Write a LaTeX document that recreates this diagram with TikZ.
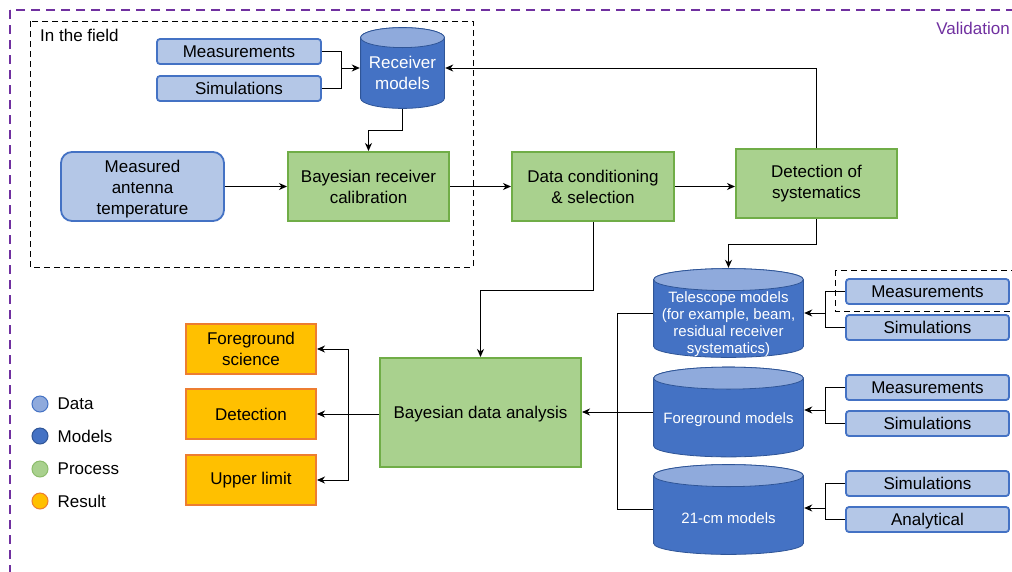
\documentclass[tikz,border=0pt]{standalone}
\usepackage{fontspec}
\setmainfont{Liberation Sans}
\usetikzlibrary{arrows.meta,positioning,calc}
\usepackage{xcolor}

\definecolor{datafill}{HTML}{B4C7E7}
\definecolor{dataline}{HTML}{4472C4}
\definecolor{modelfill}{HTML}{4472C4}
\definecolor{modeltop}{HTML}{8FAADC}
\definecolor{modelline}{HTML}{2F5597}
\definecolor{procfill}{HTML}{A9D18E}
\definecolor{procline}{HTML}{70AD47}
\definecolor{resfill}{HTML}{FFC000}
\definecolor{resline}{HTML}{ED7D31}
\definecolor{validcol}{HTML}{7030A0}

\newcommand{\biglbl}{\fontsize{17}{21}\selectfont}
\newcommand{\smalllbl}{\fontsize{15}{17}\selectfont}

% cylinder body drawn inside the node (argument = half height of the end ellipse)
\newcommand{\cylpic}[1]{%
  \draw[modelline, line width=0.8pt, fill=modelfill]
    let \p1=(path picture bounding box.south west),
        \p2=(path picture bounding box.north east),
        \n1={(\x2-\x1)/2-0.6pt} in
    (\x1+0.6pt,\y2-#1-0.6pt) -- (\x1+0.6pt,\y1+#1+0.6pt)
    arc[start angle=180,end angle=360,x radius=\n1,y radius=#1]
    -- (\x2-0.6pt,\y2-#1-0.6pt)
    arc[start angle=0,end angle=180,x radius=\n1,y radius=#1] -- cycle;
  \draw[modelline, line width=0.8pt, fill=modeltop]
    let \p1=(path picture bounding box.south west),
        \p2=(path picture bounding box.north east),
        \n1={(\x2-\x1)/2-0.6pt} in
    ({(\x1+\x2)/2},\y2-#1-0.6pt) ellipse[x radius=\n1,y radius=#1];
}
% lowered multi-line text
\newcommand{\lowtext}[2]{\raisebox{#1}[\height][\depth]{\begin{tabular}{@{}c@{}}#2\end{tabular}}}

\tikzset{
  databox/.style={draw=dataline, fill=datafill, line width=1.8pt, rounded corners=3pt,
    minimum width=164pt, minimum height=25pt, inner sep=0pt, font=\biglbl,
    text height=12.5pt, text depth=0pt},
  procbox/.style={draw=procline, fill=procfill, line width=2pt, minimum width=161pt,
    minimum height=69pt, align=center, font=\biglbl},
  resbox/.style={draw=resline, fill=resfill, line width=2pt, minimum width=130pt,
    minimum height=50pt, align=center, font=\biglbl},
  modelcyl/.style={minimum width=151pt, minimum height=91pt, inner sep=0pt,
    text=white, font=\smalllbl, path picture={\cylpic{#1}}},
  legdot/.style={circle, minimum size=16pt, inner sep=0pt, line width=1pt},
  leglbl/.style={right=9pt of #1, font=\biglbl, inner sep=0pt},
  wire/.style={line width=1pt},
  arrowline/.style={wire, -{Stealth[length=8pt,width=7pt,inset=2.5pt]}}
}

\begin{document}
\begin{tikzpicture}[x=1pt,y=-1pt]

  \useasboundingbox (0,0) rectangle (1012,571);

  % frames
  \draw[validcol, line width=1.6pt, dash pattern=on 9pt off 6pt] (10,10) rectangle (1040,600);
  \node[anchor=east, text=validcol, font=\biglbl, inner sep=0pt] (validlbl) at (1010,28) {Validation};
  \draw[line width=0.8pt, dash pattern=on 6pt off 4pt] (30,21) rectangle (473,267);
  \node[anchor=north west, font=\biglbl, inner sep=0pt] (fieldlbl) at (40,29) {In the field};
  \draw[line width=0.8pt, dash pattern=on 6pt off 4pt] (835,270) rectangle (1030,311);

  % in the field
  \node[databox] (meas1) at (239,51.5) {Measurements};
  \node[databox] (sim1) at (239,88.5) {Simulations};
  \node[modelcyl=10pt, minimum width=85pt, minimum height=82pt, font=\biglbl] (recv) at (402.5,68)
    {\lowtext{-7pt}{Receiver\\models}};
  \node[draw=dataline, fill=datafill, line width=1.8pt, rounded corners=11pt, font=\biglbl,
    minimum width=163pt, minimum height=69pt, inner sep=0pt] (mat) at (142.5,186.5)
    {\lowtext{-3pt}{Measured\\antenna\\temperature}};
  \node[procbox] (brc) at (368.5,186.5) {Bayesian receiver\\calibration};
  \node[procbox, minimum width=162pt] (dcs) at (593,186.5) {Data conditioning\\\& selection};
  \node[procbox] (dos) at (816.5,183.5) {Detection of\\systematics};

  % models
  \node[modelcyl=11pt, minimum height=90pt] (tel) at (728.5,313)
    {\lowtext{-11.5pt}{Telescope models\\(for example, beam,\\residual receiver\\systematics)}};
  \node[modelcyl=11pt] (fgm) at (728.5,412)
    {\lowtext{-8pt}{Foreground models}};
  \node[modelcyl=11pt] (cm21) at (728.5,509.5)
    {\lowtext{-11pt}{21-cm models}};

  \node[databox, minimum width=163pt] (meas2) at (927.5,291.5) {Measurements};
  \node[databox, minimum width=163pt] (sim2) at (927.5,327.5) {Simulations};
  \node[databox, minimum width=163pt] (meas3) at (927.5,387.5) {Measurements};
  \node[databox, minimum width=163pt] (sim3) at (927.5,423.5) {Simulations};
  \node[databox, minimum width=163pt] (sim4) at (927.5,483.5) {Simulations};
  \node[databox, minimum width=163pt] (ana) at (927.5,519.5) {Analytical};

  % analysis and results
  \node[procbox, minimum width=201pt, minimum height=109pt, text height=12.5pt, text depth=0pt] (bda)
    at (480.5,412.5) {Bayesian data analysis};
  \node[resbox] (fgs) at (251,349) {Foreground\\science};
  \node[resbox] (det) at (251,414) {Detection};
  \node[resbox] (upl) at (251,480) {Upper limit};

  % legend
  \node[legdot, draw=dataline, fill=modeltop] (legdata) at (40,404) {};
  \node[legdot, draw=modelline, fill=modelfill] (legmodel) at (40,436) {};
  \node[legdot, draw=procline!80, fill=procfill] (legproc) at (40,469) {};
  \node[legdot, draw=resline, fill=resfill] (legres) at (40,501) {};
  \node[leglbl=legdata] (legdatalbl) {Data};
  \node[leglbl=legmodel] (legmodellbl) {Models};
  \node[leglbl=legproc] (legproclbl) {Process};
  \node[leglbl=legres] (legreslbl) {Result};

  % junctions
  \coordinate (j1) at (341,68);
  \coordinate (j2) at (617,412);
  \coordinate (j3) at (825,313);
  \coordinate (j4) at (825,410);
  \coordinate (j5) at (825,508);
  \coordinate (j6) at (348,414);

  % connectors
  \draw[wire] (meas1.east) -| (j1);
  \draw[wire] (sim1.east) -| (j1);
  \draw[arrowline] (j1) -- (recv.west |- j1);
  \draw[arrowline] (recv.south) -- ++(0,21) -| (brc.north);
  \draw[arrowline] (mat) -- (brc);
  \draw[arrowline] (brc) -- (dcs);
  \draw[arrowline] (dcs.east) -- (dcs.east -| dos.west);
  \draw[arrowline] (dos.north) |- (recv.east);
  \draw[arrowline] (dos.south) -- ++(0,25) -| (tel.north);
  \draw[arrowline] (dcs.south) -- ++(0,68) -| (bda.north);

  \draw[wire] (tel.west) -| (j2);
  \draw[wire] (cm21.west) -| (j2);
  \draw[arrowline] (fgm.west) -- (bda.east |- fgm.west);

  \draw[wire] (meas2.west) -| (j3);
  \draw[wire] (sim2.west) -| (j3);
  \draw[arrowline] (j3) -- (tel.east |- j3);
  \draw[wire] (meas3.west) -| (j4);
  \draw[wire] (sim3.west) -| (j4);
  \draw[arrowline] (j4) -- (fgm.east |- j4);
  \draw[wire] (sim4.west) -| (j5);
  \draw[wire] (ana.west) -| (j5);
  \draw[arrowline] (j5) -- (cm21.east |- j5);

  \draw[arrowline] (bda.west |- det.east) -- (det.east);
  \draw[arrowline] (j6) |- (fgs.east);
  \draw[arrowline] (j6) |- (upl.east);

\end{tikzpicture}
\end{document}
